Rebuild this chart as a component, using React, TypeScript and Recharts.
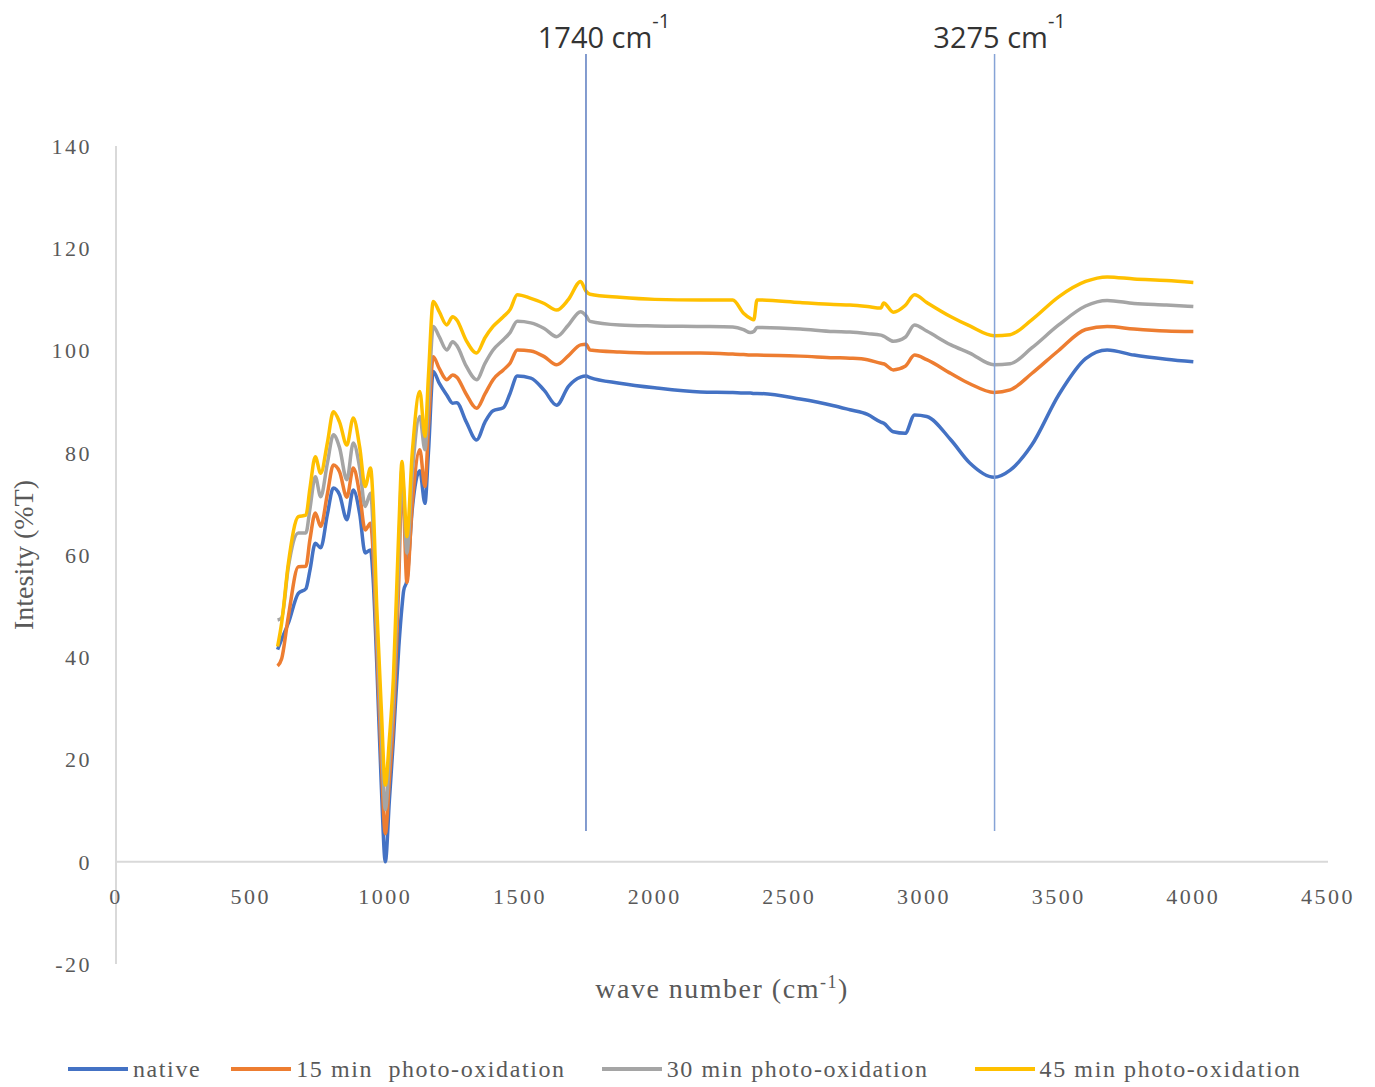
import React from "react";
import { LineChart, Line, XAxis, YAxis, ReferenceLine, Label } from "recharts";

// wave numbers (cm-1) shared by all four spectra
const waveNumbers = [
  600, 615, 640, 677, 705, 720, 740, 760, 785, 807,
  830, 857, 881, 905, 925, 945, 955, 968, 985, 1000,
  1015, 1030, 1050, 1062, 1068, 1080, 1100, 1128, 1147, 1160,
  1178, 1200, 1228, 1250, 1265, 1300, 1339, 1370, 1400, 1438,
  1463, 1490, 1540, 1590, 1636, 1680, 1725, 1745, 1760, 1870,
  2000, 2170, 2290, 2330, 2355, 2368, 2380, 2540, 2665, 2725,
  2790, 2840, 2850, 2886, 2930, 2965, 3010, 3100, 3170, 3260,
  3320, 3400, 3500, 3600, 3680, 3780, 3900, 4000,
];

const native = [
  41.5, 43.5, 46.7, 52.5, 53.4, 57, 62.3, 61.4, 68, 73.1,
  71.8, 66.9, 72.7, 68, 60.4, 61.0, 55, 39, 15, 0,
  12, 24, 42, 50, 53, 55, 69, 76.5, 70.1, 80,
  95.9, 93.6, 91.3, 89.7, 89.8, 86.1, 82.5, 86, 88.2, 88.8,
  91.6, 95.0, 94.6, 92.2, 89.3, 93, 94.8, 95.0, 94.7, 93.6,
  92.7, 91.9, 91.8, 91.7, 91.7, 91.6, 91.6, 90.5, 89.2, 88.4,
  87.5, 86, 85.8, 84.1, 83.8, 87.4, 87.1, 82.5, 78, 75.2,
  76.6, 81.5, 91.3, 98.4, 100.1, 99.1, 98.3, 97.8,
];

const min15 = [
  38.3, 39.7, 48, 57.7, 57.8, 63, 68.2, 65.6, 72, 77.6,
  76.3, 71.3, 77.0, 71.8, 64.9, 66.2, 60, 42.6, 20, 5.5,
  16, 27.6, 55, 75, 70, 54.6, 70, 80.6, 73.4, 85,
  98.8, 96.5, 94.3, 95.2, 94.8, 91.5, 88.7, 91.5, 94.3, 96.2,
  97.5, 100.1, 99.9, 98.8, 97.2, 99, 101.1, 101.2, 100.1, 99.7,
  99.5, 99.5, 99.3, 99.2, 99.1, 99.1, 99.1, 98.9, 98.6, 98.5,
  98.2, 97.5, 97.4, 96.2, 96.9, 99.1, 98.2, 95.5, 93.5, 91.8,
  92.3, 95.5, 100, 104.1, 104.7, 104.2, 103.8, 103.7,
];

const min30 = [
  47.3, 47.7, 57.7, 64.3, 64.3, 69, 75.3, 71.4, 78, 83.5,
  81, 74.7, 81.9, 77, 69.5, 72.1, 65, 46, 25, 10.2,
  20, 32, 60, 77, 72, 60.4, 76, 87.1, 80.6, 90,
  104.7, 102.7, 100.1, 101.7, 101, 97, 94.3, 97.5, 100.1, 102.1,
  103.5, 105.7, 105.4, 104.3, 102.7, 105, 107.6, 106.8, 105.7, 105.0,
  104.8, 104.7, 104.6, 104.1, 103.5, 103.7, 104.5, 104.2, 103.7, 103.6,
  103.3, 103.0, 102.8, 101.8, 102.6, 105.0, 103.8, 101.1, 99.5, 97.2,
  97.4, 100.5, 105, 108.7, 109.8, 109.2, 108.9, 108.6,
];

const min45 = [
  42.1, 46.7, 58.4, 67.5, 67.8, 73, 79.2, 76, 82, 88,
  86, 81.5, 86.8, 81, 73.4, 77.0, 70, 50, 30, 15,
  24, 36, 65, 78.3, 74, 63.6, 80, 92.0, 83.2, 95,
  109.6, 107.6, 105, 106.6, 106, 102, 99.5, 102.5, 104.7, 106.6,
  108, 110.9, 110.2, 109.2, 107.9, 110, 113.5, 111.6, 111.0, 110.4,
  110.0, 109.9, 109.9, 107.3, 106.3, 106.0, 109.9, 109.4, 109.0, 108.9,
  108.6, 108.3, 109.3, 107.5, 108.8, 110.9, 109.4, 106.6, 104.8, 102.9,
  103.1, 106.0, 110.5, 113.5, 114.4, 114.0, 113.7, 113.3,
];

const seriesKeys = ["native", "m15", "m30", "m45"];
const seriesNames = ["native", "15 min  photo-oxidation", "30 min photo-oxidation", "45 min photo-oxidation"];
const seriesColors = ["#4472C4", "#ED7D31", "#A5A5A5", "#FFC000"];
const legendGaps = [30, 36, 46, 0];

const xTicks = [0, 500, 1000, 1500, 2000, 2500, 3000, 3500, 4000, 4500];
const yTicks = [-20, 0, 20, 40, 60, 80, 100, 120, 140];

// marked bands: where the line is drawn, its label, and its vertical extent
const markerX = [1745, 3262];
const markerText = ["1740", "3275"];
const markerShift = [18, 5];
const markerColors = ["#5b7bbf", "#86a3d6"];
const markerFrom = 6;
const markerTo = 158;

const data = waveNumbers.map((w, i) => ({
  w,
  native: native[i],
  m15: min15[i],
  m30: min30[i],
  m45: min45[i],
}));

const serif = "'Liberation Serif', 'DejaVu Serif', serif";
const grey = "#595959";

const XTick = (props: any) => {
  const { x, y, payload } = props;
  return (
    <text x={x} y={y - 68} textAnchor="middle" fill={grey} fontSize={22} fontFamily={serif} letterSpacing={2.5}>
      {payload.value}
    </text>
  );
};

const markerLabel = (i: number) => (props: any) => {
  const vb = props.viewBox || {};
  const x = (vb.x ?? 0) + markerShift[i];
  const y = (vb.y ?? 0) - 6;
  return (
    <text x={x} y={y} textAnchor="middle" fill="#333" fontSize={29} fontFamily="'Open Sans', 'Noto Sans', sans-serif">
      {markerText[i]} cm
      <tspan dy={-20} fontSize={20}>-1</tspan>
    </text>
  );
};

export default function App() {
  return (
    <div style={{ width: 1360 }}>
      <LineChart width={1360} height={1010} data={data} margin={{ top: 138, right: 40, bottom: 24, left: 28 }}>
        <XAxis
          dataKey="w"
          type="number"
          domain={[0, 4500]}
          ticks={xTicks}
          interval={0}
          axisLine={false}
          tickLine={false}
          height={30}
          tick={<XTick />}
        >
          <Label
            content={(p: any) => {
              const vb = p.viewBox || {};
              return (
                <text
                  x={(vb.x ?? 0) + (vb.width ?? 0) / 2}
                  y={(vb.y ?? 0) + 34}
                  textAnchor="middle"
                  fill={grey}
                  fontSize={28}
                  fontFamily={serif}
                  letterSpacing={1.5}
                >
                  wave number (cm
                  <tspan dy={-10} fontSize={18}>-1</tspan>
                  <tspan dy={10}>)</tspan>
                </text>
              );
            }}
          />
        </XAxis>
        <YAxis
          type="number"
          domain={[-20, 140]}
          ticks={yTicks}
          interval={0}
          width={80}
          axisLine={{ stroke: "#d9d9d9", strokeWidth: 2 }}
          tickLine={false}
          tickMargin={18}
          tick={{ fill: grey, fontSize: 22, fontFamily: serif, letterSpacing: 2.5 }}
        >
          <Label
            content={(p: any) => {
              const vb = p.viewBox || {};
              const cx = (vb.x ?? 0) - 13;
              const cy = (vb.y ?? 0) + (vb.height ?? 0) / 2;
              return (
                <text
                  x={cx}
                  y={cy}
                  transform={`rotate(-90, ${cx}, ${cy})`}
                  textAnchor="middle"
                  dominantBaseline="central"
                  fill={grey}
                  fontSize={28}
                  fontFamily={serif}
                >
                  Intesity (%T)
                </text>
              );
            }}
          />
        </YAxis>
        <ReferenceLine y={0} stroke="#d9d9d9" strokeWidth={2} ifOverflow="visible" />
        {seriesKeys.map((k, i) => (
          <Line
            key={k}
            dataKey={k}
            name={seriesNames[i]}
            type="monotone"
            stroke={seriesColors[i]}
            strokeWidth={3.5}
            dot={false}
            isAnimationActive={false}
          />
        ))}
        {markerX.map((mx, i) => (
          <ReferenceLine
            key={mx}
            segment={[
              { x: mx, y: markerFrom },
              { x: mx, y: markerTo },
            ]}
            stroke={markerColors[i]}
            strokeWidth={1.5}
            ifOverflow="visible"
            label={markerLabel(i)}
          />
        ))}
      </LineChart>
      <div style={{ display: "flex", paddingLeft: 60, paddingTop: 37, alignItems: "center" }}>
        {seriesNames.map((n, i) => (
          <div key={n} style={{ display: "flex", alignItems: "center", marginRight: legendGaps[i] }}>
            <div style={{ width: 60, height: 4, background: seriesColors[i], marginRight: 5 }} />
            <span style={{ fontFamily: serif, fontSize: 24, letterSpacing: 1.6, color: grey, whiteSpace: "pre", lineHeight: "28px" }}>
              {n}
            </span>
          </div>
        ))}
      </div>
    </div>
  );
}
